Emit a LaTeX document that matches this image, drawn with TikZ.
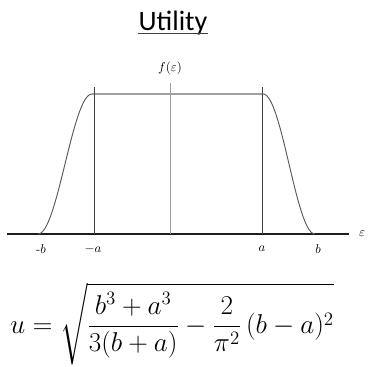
\documentclass[tikz,border=0pt]{standalone}
\usepackage{fontspec}
\usepackage{amsmath}
\newfontfamily\titlefont{Carlito}
\usetikzlibrary{positioning,calc}
\definecolor{axisgrey}{HTML}{1E1E1E}
\definecolor{linegrey}{HTML}{404040}
\definecolor{midgrey}{HTML}{A0A0A0}
\definecolor{curvegrey}{HTML}{5A5A5A}

\begin{document}
\begin{tikzpicture}[x=0.03cm,y=-0.03cm,
  lbl/.style={font=\fontsize{10.95}{12}\selectfont,inner sep=1pt},
  guide/.style={draw=linegrey,line width=0.75pt},
  curve/.style={draw=curvegrey,line width=0.8pt}
]
\useasboundingbox (0,0) rectangle (367,367);
% title
\node[font=\titlefont\fontsize{24}{28}\selectfont,inner sep=0pt,anchor=base] (title) at (173,31) {Utility};
\draw[linegrey,line width=0.9pt] ($(title.base west)+(0,2.5)$) -- ($(title.base east)+(0,2.5)$);
% axis
\coordinate (axl) at (7,234);
\coordinate (axr) at (349,234);
\draw[axisgrey,line width=1.6pt] (axl) -- (axr);
\node[lbl] (eps) at (362,234) {$\varepsilon$};
% plateau and verticals
\coordinate (pl) at (92,94);
\coordinate (pr) at (263,94);
\draw[midgrey,line width=1.1pt] (pl) -- (pr);
\draw[midgrey,line width=0.7pt] (170,83) -- (170,234);
\draw[guide] (94,87) -- (94,234);
\draw[guide] (262,87) -- (262,234);
\node[lbl] (fe) at (170,68) {$f(\varepsilon)$};
% tapered sides
\draw[curve] plot[domain=0:1,samples=50,smooth] ({92-54*\x},{94+70*(1-cos(180*\x))});
\draw[curve] plot[domain=0:1,samples=50,smooth] ({263+52*\x},{94+70*(1-cos(180*\x))});
% tick labels
\node[lbl] (mb) at (41,249) {$\text{-}b$};
\node[lbl] (ma) at (93,249) {$-a$};
\node[lbl] (pa) at (262,249) {$a$};
\node[lbl] (pb) at (318,249) {$b$};
% formula
\node[font=\fontsize{20.74}{24}\selectfont,inner sep=0pt] (form) at (172,324)
  {\scalebox{1.12}{$u=\sqrt{\dfrac{b^3+a^3}{3(b+a)}-\dfrac{2}{\pi^2}\,(b-a)^2}$}};
\end{tikzpicture}
\end{document}
